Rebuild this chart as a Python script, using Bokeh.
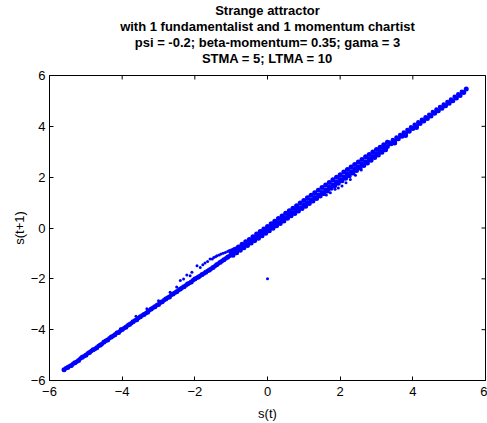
import math
from bokeh.plotting import figure
from bokeh.models import Range1d, Title, FixedTicker
from bokeh.embed import file_html
from bokeh.resources import INLINE

title_lines = [
    "Strange attractor",
    "with 1 fundamentalist and 1 momentum chartist",
    "psi = -0.2; beta-momentum= 0.35; gama = 3",
    "STMA = 5; LTMA = 10",
]
x_label = "s(t)"
y_label = "s(t+1)"
ticks = [-6, -4, -2, 0, 2, 4, 6]

# main band of the attractor
band_x = [-5.6, -5.5, -5.4, -5.3, -5.2, -5.1, -5.0, -4.9, -4.8, -4.7, -4.6, -4.5,
          -4.4, -4.3, -4.2, -4.1, -4.0, -3.9, -3.8, -3.7, -3.6, -3.5, -3.4, -3.3,
          -3.2, -3.1, -3.0, -2.9, -2.8, -2.7, -2.6, -2.5, -2.4, -2.3, -2.2, -2.1,
          -2.0, -1.9, -1.8, -1.7, -1.6, -1.5, -1.4, -1.3, -1.2, -1.1, -1.0, -0.9,
          -0.8, -0.7, -0.6, -0.5, -0.4, -0.3, -0.2, -0.1, 0.0, 0.1, 0.2, 0.3,
          0.4, 0.5, 0.6, 0.7, 0.8, 0.9, 1.0, 1.1, 1.2, 1.3, 1.4, 1.5,
          1.6, 1.7, 1.8, 1.9, 2.0, 2.1, 2.2, 2.3, 2.4, 2.5, 2.6, 2.7,
          2.8, 2.9, 3.0, 3.1, 3.2, 3.3, 3.4, 3.5, 3.6, 3.7, 3.8, 3.9,
          4.0, 4.1, 4.2, 4.3, 4.4, 4.5, 4.6, 4.7, 4.8, 4.9, 5.0, 5.1,
          5.2, 5.3, 5.4, 5.47]
band_y = [-5.58, -5.49, -5.41, -5.30, -5.21, -5.09, -5.01, -4.90, -4.79, -4.71, -4.60, -4.49,
          -4.41, -4.29, -4.20, -4.11, -3.99, -3.90, -3.80, -3.69, -3.61, -3.49, -3.40, -3.31,
          -3.19, -3.10, -3.01, -2.90, -2.79, -2.71, -2.60, -2.51, -2.40, -2.31, -2.20, -2.12,
          -2.01, -1.93, -1.83, -1.74, -1.65, -1.55, -1.45, -1.35, -1.25, -1.15, -1.05, -0.95,
          -0.86, -0.76, -0.66, -0.57, -0.47, -0.37, -0.28, -0.18, -0.08, 0.02, 0.12, 0.21,
          0.31, 0.41, 0.51, 0.61, 0.71, 0.80, 0.90, 1.00, 1.10, 1.20, 1.30, 1.40,
          1.50, 1.60, 1.70, 1.80, 1.91, 2.01, 2.11, 2.21, 2.31, 2.41, 2.51, 2.61,
          2.71, 2.81, 2.91, 3.01, 3.11, 3.21, 3.31, 3.41, 3.51, 3.61, 3.71, 3.81,
          3.91, 4.01, 4.11, 4.21, 4.31, 4.41, 4.51, 4.61, 4.71, 4.81, 4.91, 5.01,
          5.11, 5.21, 5.33, 5.47]

# in-between points of the thin outer parts of the band
fill_x = [-5.55, -5.45, -5.35, -5.25, -5.15, -5.05, -4.95, -4.85, -4.75, -4.65, -4.55,
          -4.45, -4.35, -4.25, -4.15, -4.05, -3.95, -3.85, -3.75, -3.65, -3.55, -3.45,
          -3.35, -3.25, -3.15, -3.05, -2.95, -2.85, -2.75, -2.65, -2.55, -2.45, -2.35,
          -2.25, -2.15, -2.05, -1.95, -1.85, -1.75, -1.65, -1.55, -1.45, -1.35, -1.25,
          -1.15, -1.05,
          3.35, 3.45, 3.55, 3.65, 3.75, 3.85, 3.95, 4.05, 4.15, 4.25, 4.35, 4.45,
          4.55, 4.65, 4.75, 4.85, 4.95, 5.05, 5.15, 5.25, 5.35]
fill_y = [-5.52, -5.44, -5.34, -5.26, -5.13, -5.05, -4.94, -4.84, -4.76, -4.64, -4.55,
          -4.44, -4.34, -4.25, -4.13, -4.04, -3.94, -3.84, -3.75, -3.64, -3.54, -3.44,
          -3.35, -3.24, -3.14, -3.04, -2.94, -2.84, -2.74, -2.64, -2.55, -2.45, -2.35,
          -2.26, -2.16, -2.06, -1.97, -1.88, -1.79, -1.69, -1.60, -1.50, -1.40, -1.30,
          -1.20, -1.10,
          3.36, 3.46, 3.56, 3.66, 3.76, 3.86, 3.96, 4.06, 4.16, 4.26, 4.36, 4.46,
          4.56, 4.66, 4.76, 4.86, 4.96, 5.06, 5.16, 5.26, 5.36]

# upper edge of the thick middle part
upper_x = [-1.0, -0.9, -0.8, -0.7, -0.6, -0.5, -0.4, -0.3, -0.2, -0.1, 0.0, 0.1,
           0.2, 0.3, 0.4, 0.5, 0.6, 0.7, 0.8, 0.9, 1.0, 1.1, 1.2, 1.3, 1.4,
           1.5, 1.6, 1.7, 1.8, 1.9, 2.0, 2.1, 2.2, 2.3, 2.4, 2.5, 2.6, 2.7,
           2.8, 2.9, 3.0, 3.1, 3.2, 3.3]
upper_y = [-0.95, -0.85, -0.75, -0.64, -0.54, -0.45, -0.34, -0.24, -0.14, -0.04, 0.06, 0.17,
           0.27, 0.37, 0.47, 0.58, 0.68, 0.78, 0.88, 0.98, 1.08, 1.19, 1.29, 1.39, 1.49,
           1.59, 1.69, 1.79, 1.90, 2.00, 2.10, 2.20, 2.30, 2.40, 2.50, 2.60, 2.70, 2.80,
           2.89, 2.99, 3.09, 3.18, 3.28, 3.37]

# lower edge of the thick middle part
lower_x = [-0.95, -0.85, -0.75, -0.65, -0.55, -0.45, -0.35, -0.25, -0.15, -0.05, 0.05, 0.15,
           0.25, 0.35, 0.45, 0.55, 0.65, 0.75, 0.85, 0.95, 1.05, 1.15, 1.25, 1.35, 1.45,
           1.55, 1.65, 1.75, 1.85, 1.95, 2.05, 2.15, 2.25, 2.35, 2.45, 2.55, 2.65, 2.75,
           2.85, 2.95, 3.05, 3.15, 3.25, 3.5, 3.8, 4.1]
lower_y = [-1.07, -0.97, -0.88, -0.78, -0.69, -0.59, -0.50, -0.40, -0.30, -0.21, -0.11, -0.01,
           0.09, 0.18, 0.28, 0.38, 0.48, 0.57, 0.67, 0.77, 0.86, 0.96, 1.06, 1.16, 1.26,
           1.36, 1.46, 1.56, 1.66, 1.76, 1.86, 1.96, 2.06, 2.16, 2.26, 2.36, 2.46, 2.56,
           2.67, 2.77, 2.87, 2.98, 3.08, 3.34, 3.64, 3.95]

# scattered points (loop above the band, dots below, outlier)
extra_x = [-4.15, -4.05, -3.62, -3.32, -3.0, -2.68, -2.50, -2.40, -2.31, -2.22, -2.13,
           -2.08, -1.94, -1.85, -1.78, -1.72, -1.65, -1.58, -1.52, -1.48, -1.43, -1.39,
           -1.33, -1.28, -1.22, -1.16, -1.10, -1.05, -0.99, -0.94, -0.88,
           1.45, 1.54, 1.62, 1.73, 1.86, 1.95, 2.05, 2.16, 2.28, 2.42, 2.58,
           0.0]
extra_y = [-4.09, -3.96, -3.47, -3.18, -2.86, -2.53, -2.32, -2.07, -2.01, -1.85, -1.88,
           -1.74, -1.49, -1.55, -1.45, -1.38, -1.32, -1.22, -1.22, -1.16, -1.13, -1.09,
           -1.06, -1.02, -0.99, -0.96, -0.92, -0.89, -0.86, -0.83, -0.79,
           1.25, 1.32, 1.30, 1.39, 1.52, 1.57, 1.65, 1.78, 1.91, 2.08, 2.28,
           -2.0]

FONT = "Liberation Sans"
FS = "13px"
BLUE = "#0000ff"

xr = Range1d(-6, 6)
yr = Range1d(-6, 6)
p = figure(width=487, height=423, x_range=xr, y_range=yr,
           output_backend="svg", toolbar_location=None,
           min_border_left=49, min_border_right=2, min_border_top=75, min_border_bottom=41)
p.title = None
p.grid.visible = False
p.outline_line_color = "black"
p.outline_line_width = 1

p.scatter(band_x, band_y, size=5, marker="circle", fill_color=BLUE, line_color=None)
p.scatter(fill_x, fill_y, size=4.5, marker="circle", fill_color=BLUE, line_color=None)
p.scatter(upper_x, upper_y, size=5, marker="circle", fill_color=BLUE, line_color=None)
p.scatter(lower_x, lower_y, size=5, marker="circle", fill_color=BLUE, line_color=None)
p.scatter(extra_x, extra_y, size=3, marker="circle", fill_color=BLUE, line_color=None)

# inward ticks on the top and right edges of the box (clipped to the frame)
p.scatter(ticks, [yr.end] * len(ticks), marker="dash", angle=math.pi / 2, size=8,
          line_color="black", line_width=1)
p.scatter([xr.end] * len(ticks), ticks, marker="dash", size=8,
          line_color="black", line_width=1)

def style(ax):
    ax.ticker = FixedTicker(ticks=ticks)
    ax.minor_tick_line_color = None
    ax.major_tick_in = 4
    ax.major_tick_out = 0
    ax.axis_line_color = "black"
    ax.major_tick_line_color = "black"
    ax.major_label_text_font = FONT
    ax.major_label_text_font_size = FS
    ax.major_label_text_color = "black"
    ax.axis_label_text_font = FONT
    ax.axis_label_text_font_size = FS
    ax.axis_label_text_font_style = "normal"
    ax.axis_label_text_color = "black"

xa = p.xaxis[0]
ya = p.yaxis[0]
style(xa)
style(ya)
xa.axis_label = x_label
ya.axis_label = y_label
xa.major_label_standoff = 6
ya.major_label_standoff = 4
xa.axis_label_standoff = 7
ya.axis_label_standoff = 1

# title lines stacked above the frame; the lowest one carries an extra blank
# line below it, which keeps it clear of the box as in the original
n = len(title_lines)
for i, line in enumerate(reversed(title_lines)):
    is_lowest = i == 0
    t = Title(text=line + ("\n" if is_lowest else ""), align="center",
              text_font=FONT, text_font_size=FS, text_font_style="bold",
              text_color="black", standoff=-1.5,
              text_line_height=0.7 if is_lowest else 1.2)
    p.add_layout(t, "above")

open("out.html", "w").write(file_html(p, INLINE))
